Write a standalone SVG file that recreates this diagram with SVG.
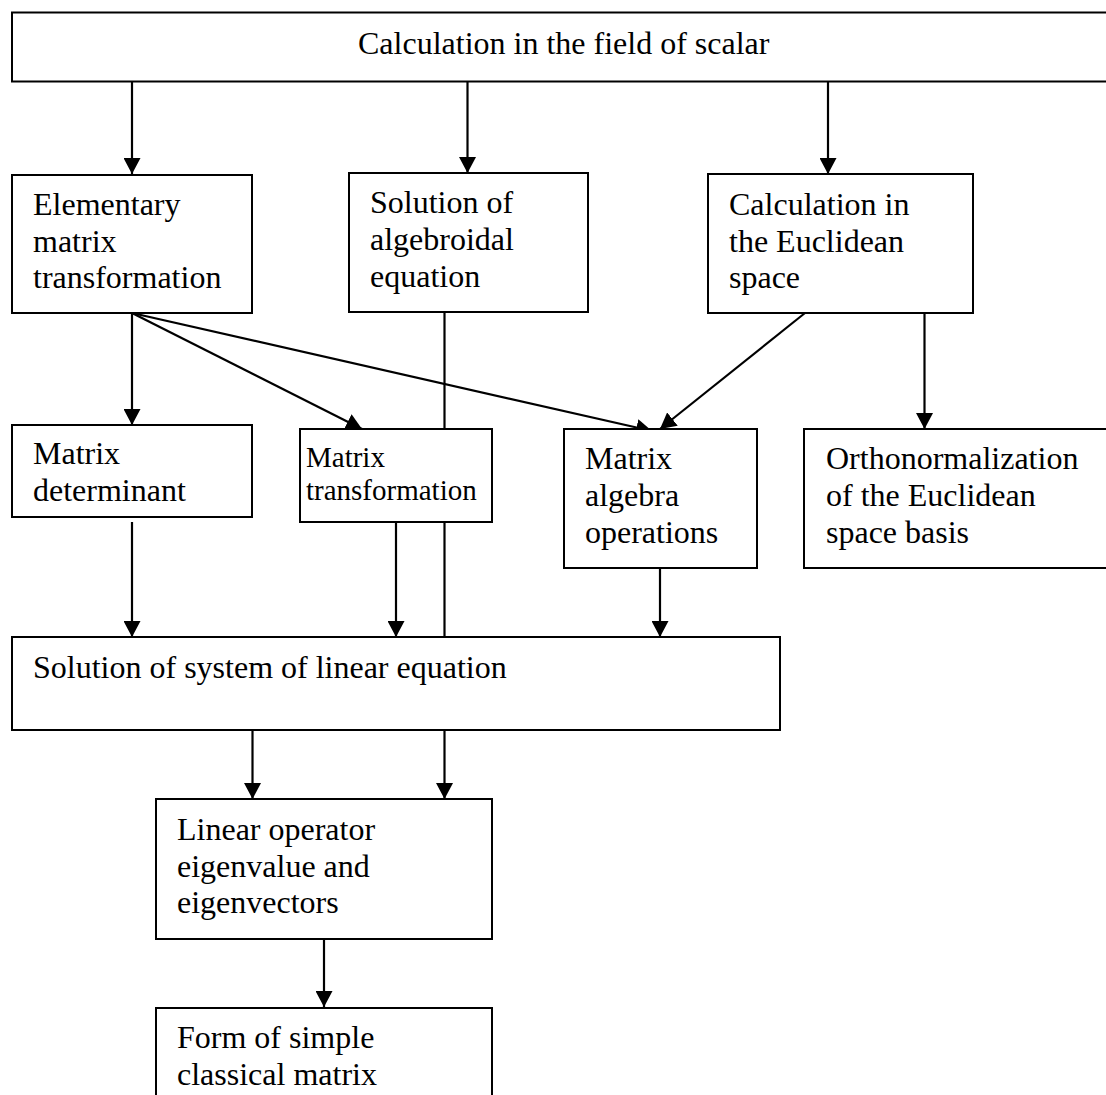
<svg xmlns="http://www.w3.org/2000/svg" width="1106" height="1095" viewBox="0 0 1106 1095">
<defs>
<marker id="ah" viewBox="0 0 15 16" refX="15" refY="8" markerWidth="16" markerHeight="17" orient="auto" markerUnits="userSpaceOnUse">
<path d="M0,0 L15,8 L0,16 Z" fill="#000"/>
</marker>
<style>
.box{fill:#fff;stroke:#000;stroke-width:2}
.t{font-family:"Liberation Serif","Times New Roman",serif;font-size:32px;fill:#000}
.s{font-size:29px}
.c{fill:none;stroke:#000;stroke-width:2.2}
.a{marker-end:url(#ah)}
</style>
</defs>
<rect width="1106" height="1095" fill="#fff"/>
<g id="connectors">
<line class="c a" x1="132" y1="82" x2="132" y2="174"/>
<line class="c a" x1="467.5" y1="82" x2="467.5" y2="173"/>
<line class="c a" x1="828" y1="82" x2="828" y2="174"/>
<line class="c a" x1="132" y1="313" x2="132" y2="425"/>
<line class="c a" x1="132" y1="313" x2="362" y2="429"/>
<line class="c a" x1="132" y1="313" x2="652" y2="431"/>
<line class="c a" x1="805" y1="313" x2="660" y2="429"/>
<line class="c a" x1="924.5" y1="313" x2="924.5" y2="429"/>
<line class="c" x1="444.5" y1="312" x2="444.5" y2="637"/>
<line class="c a" x1="132" y1="522" x2="132" y2="637"/>
<line class="c a" x1="396" y1="522" x2="396" y2="637"/>
<line class="c a" x1="660" y1="568" x2="660" y2="637"/>
<line class="c a" x1="252.5" y1="730" x2="252.5" y2="799"/>
<line class="c a" x1="444.5" y1="730" x2="444.5" y2="799"/>
<line class="c a" x1="324" y1="939" x2="324" y2="1007"/>
</g>
<g id="n-scalar">
<rect class="box" x="12" y="12.5" width="1110" height="69"/>
<text class="t" x="358" y="54">Calculation in the field of scalar</text>
</g>
<g id="n-elementary">
<rect class="box" x="12" y="175" width="240" height="138"/>
<text class="t" x="33" y="215">Elementary</text>
<text class="t" x="33" y="252">matrix</text>
<text class="t" x="33" y="288">transformation</text>
</g>
<g id="n-algebroidal">
<rect class="box" x="349" y="173" width="239" height="139"/>
<text class="t" x="370" y="213">Solution of</text>
<text class="t" x="370" y="250">algebroidal</text>
<text class="t" x="370" y="287">equation</text>
</g>
<g id="n-euclidean">
<rect class="box" x="708" y="174" width="265" height="139"/>
<text class="t" x="729" y="215">Calculation in</text>
<text class="t" x="729" y="252">the Euclidean</text>
<text class="t" x="729" y="288">space</text>
</g>
<g id="n-determinant">
<rect class="box" x="12" y="425" width="240" height="92"/>
<text class="t" x="33" y="464">Matrix</text>
<text class="t" x="33" y="501">determinant</text>
</g>
<g id="n-transformation">
<rect class="box" x="300" y="429" width="192" height="93"/>
<text class="t s" x="306" y="467">Matrix</text>
<text class="t s" x="306" y="500">transformation</text>
</g>
<g id="n-algebra">
<rect class="box" x="564" y="429" width="193" height="139"/>
<text class="t" x="585" y="469">Matrix</text>
<text class="t" x="585" y="506">algebra</text>
<text class="t" x="585" y="543">operations</text>
</g>
<g id="n-ortho">
<rect class="box" x="804" y="429" width="320" height="139"/>
<text class="t" x="826" y="469">Orthonormalization</text>
<text class="t" x="826" y="506">of the Euclidean</text>
<text class="t" x="826" y="543">space basis</text>
</g>
<g id="n-linear">
<rect class="box" x="12" y="637" width="768" height="93"/>
<text class="t" x="33" y="678">Solution of system of linear equation</text>
</g>
<g id="n-eigen">
<rect class="box" x="156" y="799" width="336" height="140"/>
<text class="t" x="177" y="840">Linear operator</text>
<text class="t" x="177" y="877">eigenvalue and</text>
<text class="t" x="177" y="913">eigenvectors</text>
</g>
<g id="n-form">
<rect class="box" x="156" y="1008" width="336" height="120"/>
<text class="t" x="177" y="1048">Form of simple</text>
<text class="t" x="177" y="1085">classical matrix</text>
</g>
</svg>
